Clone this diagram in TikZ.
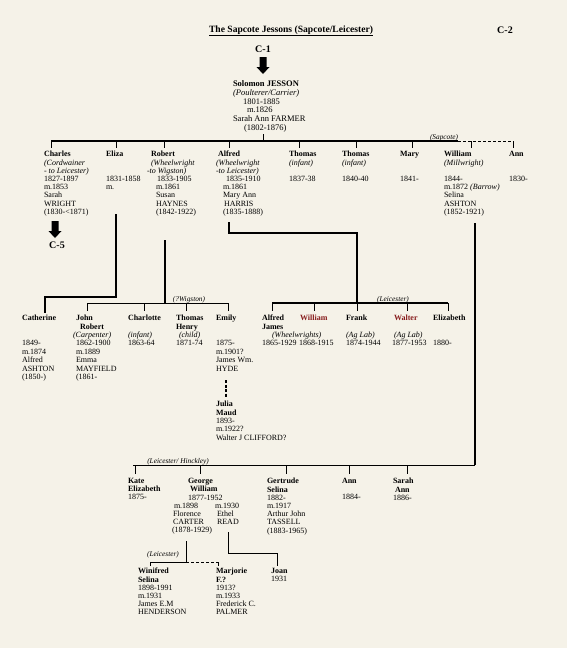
\documentclass[tikz,border=0pt]{standalone}
\usepackage{fontspec}
\setmainfont{Liberation Serif}
\usetikzlibrary{calc}
\definecolor{paper}{RGB}{245,242,232}
\definecolor{redname}{RGB}{135,28,28}
\newcommand\famfont{\fontsize{8}{8.2}\selectfont}
\newcommand\famfontb{\fontsize{8}{8.4}\selectfont}
\newcommand\famfontc{\fontsize{8.5}{8.7}\selectfont}
\newcommand\labfont{\fontsize{7.3}{8}\selectfont\itshape}
\newcommand\bigfont{\fontsize{10}{12}\selectfont\bfseries}
\newcommand\famtick[4]{\coordinate (#1-t) at (#2,#3);\draw[bus,shorten >=#4pt] (#1-t) -- (#1-t |- #1.north);}
\tikzset{
  person/.style={anchor=north west, inner sep=0pt, outer sep=0pt, align=left, font=\famfont, execute at begin node=\strut},
  personb/.style={person, font=\famfontb},
  placelab/.style={anchor=base, inner sep=0pt, font=\labfont},
  biglab/.style={anchor=base, inner sep=0pt, font=\bigfont},
  bus/.style={line width=1pt, black},
  heavy/.style={line width=1.6pt, black},
  blockarrow/.pic={\fill (-3.5,0) -- (3.5,0) -- (3.5,10) -- (6.5,10) -- (0,17) -- (-6.5,10) -- (-3.5,10) -- cycle;}
}
\begin{document}
\begin{tikzpicture}[x=1pt,y=-1pt]
\fill[paper] (0,0) rectangle (567,648);
\useasboundingbox (0,0) rectangle (567,648);

% title and references
\node[anchor=base, inner sep=0pt, font=\fontsize{9.6}{11}\selectfont\bfseries] (title) at (291,32) {\underline{The Sapcote Jessons (Sapcote/Leicester)}};
\node[biglab] (c2) at (505,33) {C-2};
\node[biglab] (c1) at (263,52.5) {C-1};
\coordinate (c1-a) at (263,57);
\pic at (c1-a) {blockarrow};

% generation 1
\node[person, font=\famfontc] (solomon) at (233,80.9) {\textbf{Solomon JESSON}\\ \textit{(Poulterer/Carrier)}\\ \hspace*{10pt}1801-1885\\ \hspace*{14pt}m.1826\\ Sarah Ann FARMER\\ \hspace*{11pt}(1802-1876)};

% generation 2
\node[person] (charles) at (44,151.3) {\textbf{Charles}\\ \textit{(Cordwainer}\\ \textit{- to Leicester)}\\ 1827-1897\\ m.1853\\ Sarah\\ WRIGHT\\ (1830-<1871)};
\node[person] (eliza) at (106,151.3) {\textbf{Eliza}\\ ~\\ ~\\ 1831-1858\\ m.};
\node[person] (robert) at (147,151.3) {\hspace*{4pt}\textbf{Robert}\\ \hspace*{4pt}\textit{(Wheelwright}\\ \textit{-to Wigston)}\\ \hspace*{10pt}1833-1905\\ \hspace*{9pt}m.1861\\ \hspace*{9pt}Susan\\ \hspace*{9pt}HAYNES\\ \hspace*{9pt}(1842-1922)};
\node[person] (alfred) at (216,151.3) {\hspace*{2pt}\textbf{Alfred}\\ \textit{(Wheelwright}\\ \textit{-to Leicester)}\\ \hspace*{10pt}1835-1910\\ \hspace*{7pt}m.1861\\ \hspace*{7pt}Mary Ann\\ \hspace*{8pt}HARRIS\\ \hspace*{7pt}(1835-1888)};
\node[person] (thomas1) at (289,151.3) {\textbf{Thomas}\\ \textit{(infant)}\\ ~\\ 1837-38};
\node[person] (thomas2) at (342,151.3) {\textbf{Thomas}\\ \textit{(infant)}\\ ~\\ 1840-40};
\node[person] (mary) at (400,151.3) {\textbf{Mary}\\ ~\\ ~\\ 1841-};
\node[person] (william) at (444,151.3) {\textbf{William}\\ \textit{(Millwright)}\\ ~\\ 1844-\\ m.1872 \textit{(Barrow)}\\ Selina\\ ASHTON\\ (1852-1921)};
\node[person] (ann) at (509,151.3) {\textbf{Ann}\\ ~\\ ~\\ 1830-};
\node[placelab] (sapcote) at (444,139) {(Sapcote)};

\coordinate (c5-a) at (55,221);
\pic at (c5-a) {blockarrow};
\node[biglab] (c5) at (57,248.5) {C-5};

% bus of generation 2
\coordinate (sol-t) at (263,141);
\coordinate (bus1L) at (51,141);
\coordinate (bus1D) at (458,141);
\coordinate (bus1R) at (513,141);
\draw[bus, shorten >=1.5pt] (sol-t) -- (sol-t |- solomon.south);
\draw[line width=1.2pt] (bus1L) -- (bus1D);
\draw[bus, dashed, dash pattern=on 3pt off 2pt] (bus1D) -- (bus1R);
\famtick{charles}{51}{141}{3.3}
\famtick{eliza}{116}{141}{3.3}
\famtick{robert}{164}{141}{3.3}
\famtick{alfred}{229}{141}{3.3}
\famtick{thomas1}{299}{141}{3.3}
\famtick{thomas2}{356}{141}{3.3}
\famtick{mary}{412}{141}{3.3}
\famtick{william}{471}{141}{3.3}
\famtick{ann}{513}{141}{3.3}

% generation 3 : Eliza's daughter
\node[personb] (catherine) at (22,315.1) {\textbf{Catherine}\\ ~\\ ~\\ 1849-\\ m.1874\\ Alfred\\ ASHTON\\ (1850-)};
\coordinate (el1) at (116,214);
\coordinate (el2) at (116,297);
\coordinate (el3) at (45,297);
\draw[heavy, shorten >=2pt] (el1) -- (el2) -- (el3) -- (el3 |- catherine.north);

% generation 3 : Robert's children
\node[personb] (johnrobert) at (73,315.1) {\hspace*{3pt}\textbf{John}\\ \hspace*{7pt}\textbf{Robert}\\ \textit{(Carpenter)}\\ \hspace*{3pt}1862-1900\\ \hspace*{3pt}m.1889\\ \hspace*{3pt}Emma\\ \hspace*{3pt}MAYFIELD\\ \hspace*{3pt}(1861-};
\node[personb] (charlotte) at (128,315.1) {\textbf{Charlotte}\\ ~\\ \textit{(infant)}\\ 1863-64};
\node[personb] (thomashenry) at (176,315.1) {\textbf{Thomas}\\ \textbf{Henry}\\ \hspace*{3pt}\textit{(child)}\\ 1871-74};
\node[personb] (emily) at (216,315.1) {\textbf{Emily}\\ ~\\ ~\\ 1875-\\ m.1901?\\ James Wm.\\ HYDE};
\node[personb] (julia) at (216,401.1) {\textbf{Julia}\\ \textbf{Maud}\\ 1893-\\ m.1922?\\ Walter J CLIFFORD?};
\node[placelab] (wigston) at (189,301) {(?Wigston)};
\coordinate (ro1) at (165,240);
\coordinate (ro2) at (165,303);
\coordinate (bus2L) at (87,303);
\coordinate (bus2R) at (228,303);
\draw[line width=1.2pt] (ro1) -- (ro2);
\draw[bus] (bus2L) -- (bus2R);
\famtick{johnrobert}{87}{303}{4}
\famtick{charlotte}{144}{303}{4}
\famtick{thomashenry}{186}{303}{4}
\famtick{emily}{228}{303}{4}
\coordinate (em1) at (226,380);
\draw[line width=1.3pt, dash pattern=on 3pt off 1.5pt, shorten >=4pt] (em1) -- (em1 |- julia.north);

% generation 3 : Alfred's children
\node[personb] (alfredjames) at (262,315.1) {\textbf{Alfred}\\ \textbf{James}\\ \hspace*{10pt}\textit{(Wheelwrights)}\\ 1865-1929};
\node[personb] (williamr) at (299,315.1) {\hspace*{1pt}\textcolor{redname}{\textbf{William}}\\ ~\\ ~\\ 1868-1915};
\node[personb] (frank) at (346,315.1) {\textbf{Frank}\\ ~\\ \textit{(Ag Lab)}\\ 1874-1944};
\node[personb] (walter) at (392,315.1) {\hspace*{2pt}\textcolor{redname}{\textbf{Walter}}\\ ~\\ \hspace*{2pt}\textit{(Ag Lab)}\\ 1877-1953};
\node[personb] (elizabeth) at (433,315.1) {\textbf{Elizabeth}\\ ~\\ ~\\ 1880-};
\node[placelab] (leic1) at (393,301) {(Leicester)};
\coordinate (al1) at (229,222);
\coordinate (al2) at (229,233);
\coordinate (al3) at (357,233);
\coordinate (al4) at (357,303);
\coordinate (bus3L) at (272,303);
\coordinate (bus3R) at (448,303);
\draw[heavy] (al1) -- (al2) -- (al3) -- (al4);
\draw[line width=1.2pt] (bus3L) -- (bus3R);
\famtick{alfredjames}{272}{303}{4}
\famtick{williamr}{314}{303}{4}
\famtick{frank}{357}{303}{4}
\famtick{walter}{407}{303}{4}
\famtick{elizabeth}{448}{303}{4}

% generation 3 : William's children
\node[person] (kate) at (128,478.3) {\textbf{Kate}\\ \textbf{Elizabeth}\\ 1875-};
\node[person] (george) at (188,478.3) {\textbf{George}\\ \hspace*{2pt}\textbf{William}\\ 1877-1952};
\node[person] (florence) at (172,502.9) {\hspace*{2pt}m.1898\\ \hspace*{1pt}Florence\\ \hspace*{1pt}CARTER\\ (1878-1929)};
\node[person] (ethel) at (215,502.9) {m.1930\\ \hspace*{2pt}Ethel\\ \hspace*{2pt}READ};
\node[person] (gertrude) at (267,478.3) {\textbf{Gertrude}\\ \textbf{Selina}\\ 1882-\\ m.1917\\ Arthur John\\ TASSELL\\ (1883-1965)};
\node[person] (ann2) at (342,478.3) {\textbf{Ann}\\ ~\\ 1884-};
\node[person] (sarah) at (393,478.3) {\textbf{Sarah}\\ \hspace*{2pt}\textbf{Ann}\\ 1886-};
\node[placelab] (hinckley) at (178,463) {(Leicester/ Hinckley)};
\coordinate (wi1) at (475,223);
\coordinate (wi2) at (475,465);
\coordinate (wi3) at (133,465);
\draw[line width=1.4pt] (wi1) -- (wi2);
\draw[bus] (wi2) -- (wi3);
\famtick{kate}{135}{465}{4.5}
\famtick{george}{200}{465}{4.5}
\famtick{gertrude}{286}{465}{4.5}
\famtick{ann2}{349}{465}{4.5}
\famtick{sarah}{407}{465}{4.5}

% generation 4 : George William's children
\node[person] (winifred) at (138,568.3) {\textbf{Winifred}\\ \textbf{Selina}\\ 1898-1991\\ m.1931\\ James E.M\\ HENDERSON};
\node[person] (marjorie) at (216,568.3) {\textbf{Marjorie}\\ \textbf{F.?}\\ 1913?\\ m.1933\\ Frederick C.\\ PALMER};
\node[person] (joan) at (271,568.3) {\textbf{Joan}\\ 1931};
\node[placelab] (leic2) at (163,556) {(Leicester)};
\coordinate (fl1) at (186,541);
\coordinate (fl2) at (186,562);
\coordinate (bus4L) at (150,562);
\coordinate (bus4R) at (218,562);
\draw[bus] (fl1) -- (fl2);
\draw[bus] (bus4L) -- (fl2);
\draw[bus, dash pattern=on 3pt off 2pt] (fl2) -- (bus4R);
\famtick{winifred}{150}{562}{2}
\famtick{marjorie}{218}{562}{2}
\coordinate (et1) at (228,532);
\coordinate (et2) at (228,553);
\coordinate (et3) at (277,553);
\draw[bus, shorten >=2pt] (et1) -- (et2) -- (et3) -- (et3 |- joan.north);
\end{tikzpicture}
\end{document}
